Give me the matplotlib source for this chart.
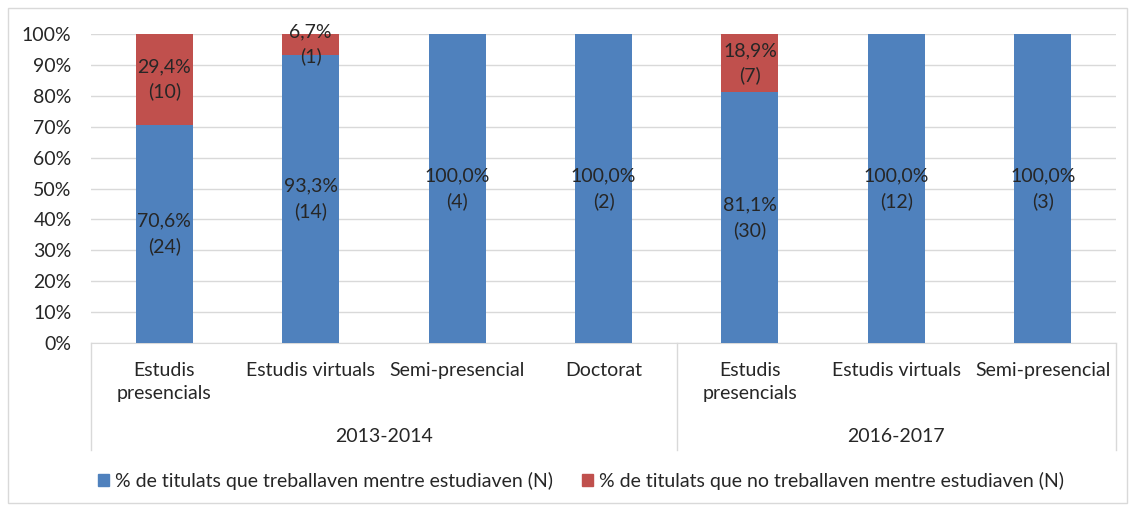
import matplotlib
matplotlib.use("Agg")
import matplotlib.pyplot as plt
from matplotlib.patches import Rectangle, Patch
from matplotlib.lines import Line2D
import matplotlib.transforms as mtransforms

categories = ["Estudis\npresencials", "Estudis virtuals", "Semi-presencial", "Doctorat",
              "Estudis\npresencials", "Estudis virtuals", "Semi-presencial"]
groups = ["2013-2014", "2016-2017"]
group_sizes = [4, 3]
working_pct = [70.6, 93.3, 100.0, 100.0, 81.1, 100.0, 100.0]
working_n = [24, 14, 4, 2, 30, 12, 3]
notworking_pct = [29.4, 6.7, 0.0, 0.0, 18.9, 0.0, 0.0]
notworking_n = [10, 1, 0, 0, 7, 0, 0]
legend_labels = ["% de titulats que treballaven mentre estudiaven (N)",
                 "% de titulats que no treballaven mentre estudiaven (N)"]
yticks = [0, 10, 20, 30, 40, 50, 60, 70, 80, 90, 100]

BLUE = "#4F81BD"
RED = "#C0504D"
GRID = "#D9D9D9"
TXT = "#262626"

plt.rcParams['font.family'] = ['Lato', 'DejaVu Sans']
FS = 14

W, H = 1133, 512
fig = plt.figure(figsize=(W / 100, H / 100), dpi=100)
ax = fig.add_axes([91 / W, 1 - 343 / H, (1116 - 91) / W, (343 - 34) / H])

x = list(range(len(categories)))
bw = 0.39
ax.bar(x, working_pct, width=bw, color=BLUE, zorder=3)
ax.bar(x, notworking_pct, width=bw, bottom=working_pct, color=RED, zorder=3)

for i in x:
    ax.text(i, working_pct[i] / 2, f"{working_pct[i]:.1f}%\n({working_n[i]})".replace(".", ","),
            ha="center", va="center", fontsize=FS, color=TXT, linespacing=1.5, zorder=4)
    if notworking_pct[i] > 0:
        ax.text(i, working_pct[i] + notworking_pct[i] / 2,
                f"{notworking_pct[i]:.1f}%\n({notworking_n[i]})".replace(".", ","),
                ha="center", va="center", fontsize=FS, color=TXT, linespacing=1.5, zorder=4)

ax.set_xlim(-0.5, len(categories) - 0.5)
ax.set_ylim(0, 100)
ax.set_yticks(yticks)
ax.set_yticklabels([f"{t}%" for t in yticks], fontsize=FS, color=TXT)
ax.tick_params(axis="y", length=0, pad=14)
ax.set_xticks([])
ax.yaxis.grid(True, color=GRID, linewidth=1, zorder=0)
for s in ["top", "right", "left"]:
    ax.spines[s].set_visible(False)
ax.spines["bottom"].set_color(GRID)

trans = mtransforms.blended_transform_factory(ax.transData, ax.transAxes)
ax_h = 343 - 34
for i, c in enumerate(categories):
    ax.text(i, -(362 - 343) / ax_h, c, transform=trans, ha="center", va="top",
            fontsize=FS, color=TXT, linespacing=1.4)

# group separators and labels
sep_bottom = -(450 - 343) / ax_h
start = 0
bounds = [-0.5]
for g, n in zip(groups, group_sizes):
    center = start + (n - 1) / 2
    ax.text(center, -(436 - 343) / ax_h, g, transform=trans, ha="center", va="center",
            fontsize=FS, color=TXT)
    start += n
    bounds.append(start - 0.5)
for b in bounds:
    ax.add_line(Line2D([b, b], [0, sep_bottom], transform=trans, color=GRID,
                       linewidth=1, clip_on=False))

handles = [Patch(facecolor=BLUE, edgecolor=BLUE), Patch(facecolor=RED, edgecolor=RED)]
fig.legend(handles, legend_labels, loc="center", bbox_to_anchor=(581 / W, 1 - 481 / H),
           ncol=2, frameon=False, fontsize=FS, handlelength=0.55, handleheight=0.55,
           handletextpad=0.3, columnspacing=1.5, labelcolor=TXT)

fig.add_artist(Rectangle((8 / W, 1 - 503 / H), (1127 - 8) / W, (503 - 8) / H,
                         transform=fig.transFigure, fill=False, edgecolor=GRID, linewidth=1))

fig.savefig("out.png", dpi=100, facecolor="white")
